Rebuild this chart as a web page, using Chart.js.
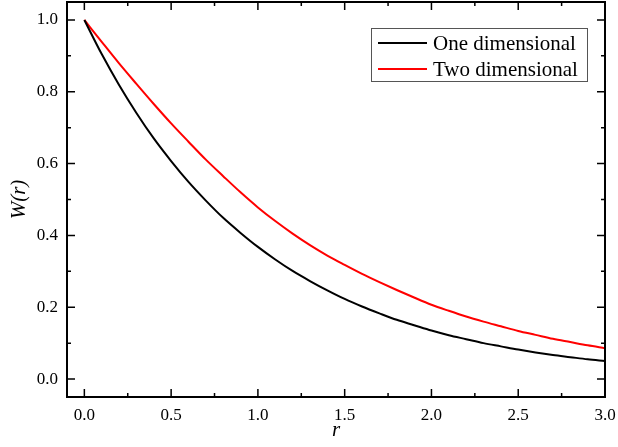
<!DOCTYPE html>
<html>
<head>
<meta charset="utf-8">
<script src="https://cdn.jsdelivr.net/npm/chart.js@4.4.0/dist/chart.umd.min.js"></script>
<style>
  html, body { margin: 0; padding: 0; background: #fff; }
  #wrap { width: 618px; height: 447px; }
</style>
</head>
<body>
<div id="wrap"><canvas id="chart"></canvas></div>
<script>
"use strict";

// values
const rValues = [0.0, 0.1, 0.2, 0.3, 0.4, 0.5, 0.6, 0.7, 0.8, 0.9, 1.0,
  1.1, 1.2, 1.3, 1.4, 1.5, 1.6, 1.7, 1.8, 1.9, 2.0,
  2.1, 2.2, 2.3, 2.4, 2.5, 2.6, 2.7, 2.8, 2.9, 3.0];
const oneDim = [1.0, 0.905, 0.819, 0.741, 0.670, 0.607, 0.549, 0.497, 0.449, 0.407, 0.368,
  0.333, 0.301, 0.273, 0.247, 0.223, 0.202, 0.183, 0.165, 0.150, 0.135,
  0.122, 0.111, 0.100, 0.091, 0.082, 0.074, 0.067, 0.061, 0.055, 0.050];
const twoDim = [1.0, 0.939, 0.879, 0.822, 0.766, 0.712, 0.661, 0.611, 0.565, 0.520, 0.478,
  0.440, 0.405, 0.373, 0.344, 0.318, 0.293, 0.270, 0.248, 0.227, 0.207,
  0.190, 0.174, 0.160, 0.147, 0.134, 0.123, 0.112, 0.103, 0.094, 0.086];

const seriesNames = ["One dimensional", "Two dimensional"];
const xTicks = [0.0, 0.5, 1.0, 1.5, 2.0, 2.5, 3.0];
const xMinor = [0.25, 0.75, 1.25, 1.75, 2.25, 2.75];
const yTicks = [0.0, 0.2, 0.4, 0.6, 0.8, 1.0];
const yMinor = [0.1, 0.3, 0.5, 0.7, 0.9];

const serif = "'Liberation Serif', 'Times New Roman', serif";

const toPoints = (ys) => rValues.map((r, i) => ({ x: r, y: ys[i] }));

// frame on four sides with inward ticks
const frameTicks = {
  id: "frameTicks",
  afterDatasetsDraw(chart) {
    const { ctx, chartArea: a, scales } = chart;
    const x = scales.x, y = scales.y;
    ctx.save();
    ctx.strokeStyle = "#000";
    ctx.lineWidth = 1.5;
    ctx.beginPath();
    const xt = (vals, len) => vals.forEach((v) => {
      const px = x.getPixelForValue(v);
      ctx.moveTo(px, a.bottom); ctx.lineTo(px, a.bottom - len);
      ctx.moveTo(px, a.top); ctx.lineTo(px, a.top + len);
    });
    const yt = (vals, len) => vals.forEach((v) => {
      const py = y.getPixelForValue(v);
      ctx.moveTo(a.left, py); ctx.lineTo(a.left + len, py);
      ctx.moveTo(a.right, py); ctx.lineTo(a.right - len, py);
    });
    xt(xTicks, 8); xt(xMinor, 4);
    yt(yTicks, 8); yt(yMinor, 4);
    ctx.stroke();
    ctx.lineWidth = 2;
    ctx.strokeRect(a.left, a.top, a.right - a.left, a.bottom - a.top);
    ctx.restore();
  },
};

// legend box inside the plot
const boxLegend = {
  id: "boxLegend",
  afterDraw(chart) {
    const ctx = chart.ctx;
    const bx = 371, by = 28, bw = 216, bh = 53;
    ctx.save();
    ctx.fillStyle = "#fff";
    ctx.fillRect(bx, by, bw, bh);
    ctx.strokeStyle = "#555";
    ctx.lineWidth = 1;
    ctx.strokeRect(bx + 0.5, by + 0.5, bw, bh);
    chart.data.datasets.forEach((ds, i) => {
      const cy = by + 15 + i * 26;
      ctx.strokeStyle = ds.borderColor;
      ctx.lineWidth = 2;
      ctx.beginPath();
      ctx.moveTo(bx + 7, cy);
      ctx.lineTo(bx + 56, cy);
      ctx.stroke();
      ctx.fillStyle = "#000";
      ctx.font = "21px " + serif;
      ctx.textBaseline = "middle";
      ctx.fillText(ds.label, bx + 62, cy + 1);
    });
    ctx.restore();
  },
};

new Chart(document.getElementById("chart"), {
  type: "line",
  data: {
    datasets: [
      {
        label: seriesNames[0],
        data: toPoints(oneDim),
        borderColor: "#000000",
        borderWidth: 2,
        pointRadius: 0,
        cubicInterpolationMode: "monotone",
      },
      {
        label: seriesNames[1],
        data: toPoints(twoDim),
        borderColor: "#ff0000",
        borderWidth: 2,
        pointRadius: 0,
        cubicInterpolationMode: "monotone",
      },
    ],
  },
  options: {
    responsive: true,
    maintainAspectRatio: false,
    animation: false,
    layout: { padding: { top: 2, right: 13, bottom: 0, left: 0 } },
    plugins: { legend: { display: false }, tooltip: { enabled: false } },
    scales: {
      x: {
        type: "linear",
        min: -0.1,
        max: 3.0,
        afterBuildTicks: (s) => { s.ticks = xTicks.map((v) => ({ value: v })); },
        afterFit: (s) => {
          s.height = 50;
          s.paddingLeft = 0;
          s.paddingRight = 0;
        },
        grid: { display: false, drawTicks: false },
        border: { display: false },
        ticks: {
          padding: 8,
          color: "#000",
          font: { family: serif, size: 17 },
          callback: (v) => v.toFixed(1),
        },
        title: {
          display: true,
          text: "r",
          color: "#000",
          font: { family: serif, size: 21, style: "italic" },
          padding: { top: 0, bottom: 4 },
        },
      },
      y: {
        min: -0.05,
        max: 1.05,
        afterBuildTicks: (s) => { s.ticks = yTicks.map((v) => ({ value: v })); },
        afterFit: (s) => {
          s.width = 67;
          s.paddingTop = 0;
          s.paddingBottom = 0;
        },
        grid: { display: false, drawTicks: false },
        border: { display: false },
        ticks: {
          padding: 9,
          color: "#000",
          font: { family: serif, size: 17 },
          callback: (v) => v.toFixed(1),
        },
        title: {
          display: true,
          text: "W(r)",
          color: "#000",
          font: { family: serif, size: 21, style: "italic" },
          padding: { top: 7, bottom: 0 },
        },
      },
    },
  },
  plugins: [frameTicks, boxLegend],
});
</script>
</body>
</html>
